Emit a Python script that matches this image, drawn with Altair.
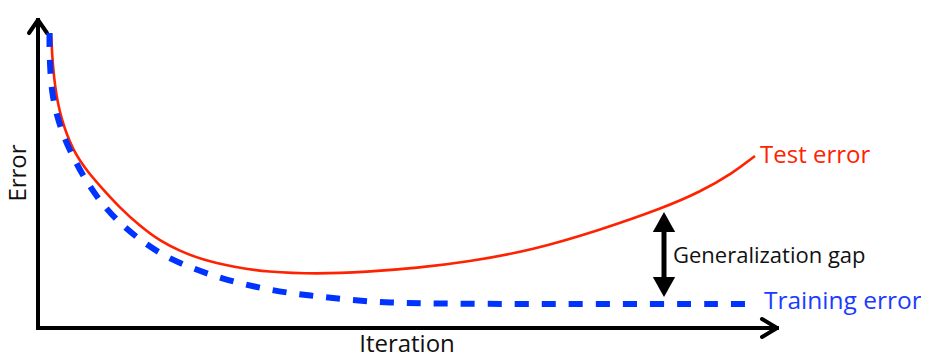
import altair as alt
import pandas as pd

# Values (x = iteration position, y = error position, screen-like units)
test_x = [51, 51.5, 52, 53, 55, 58, 62, 67, 73, 80, 88, 100, 120, 140, 160, 180, 200, 233, 267,
          317, 367, 417, 467, 533, 600, 663, 700, 733, 755]
test_y = [33, 40, 52, 66, 86, 104, 120, 135, 149, 161, 172, 186, 208, 226, 241, 251, 259, 267, 272,
          274, 272, 268, 262, 250, 230, 208, 192, 173, 156]

train_x = [49.5, 49.5, 49.5, 50, 51.5, 56, 64, 76, 88, 105, 125, 147, 168, 192, 217, 243, 270, 297,
           323, 350, 377, 403, 430, 500, 600, 700, 755]
train_y = [33, 40, 50, 65, 90, 113, 138, 163, 184, 208, 228, 245, 258, 268, 277, 284, 290, 294,
           297, 300, 302, 303, 303.5, 304, 304, 304, 304]

# axes (origin, tips) and arrow chevrons
axis_x = [38, 38]
axis_y = [328, 328]
axis_x2 = [38, 777]
axis_y2 = [20, 328]

chev_x = [38, 38, 777, 777]
chev_y = [20, 20, 328, 328]
chev_x2 = [29, 47, 762, 762]
chev_y2 = [33, 33, 319, 337]

gap_x = 664
gap_top = 212
gap_bottom = 297

labels = ["Test error", "Training error", "Generalization gap"]
label_x = [760, 764, 673]
label_y = [163, 309, 263]
label_color = ["#ff2200", "#1a3cff", "#111111"]
label_size = [24, 24.5, 22]

X = alt.Scale(domain=[8, 921])
Y = alt.Scale(domain=[8, 355], reverse=True)

def xe(f):
    return alt.X(f, type="quantitative", scale=X, axis=None)

def ye(f):
    return alt.Y(f, type="quantitative", scale=Y, axis=None)

test_df = pd.DataFrame({"x": test_x, "y": test_y})
train_df = pd.DataFrame({"x": train_x, "y": train_y})

test_line = alt.Chart(test_df).mark_line(
    color="#ff2200", strokeWidth=2.6, interpolate="basis"
).encode(x=xe("x"), y=ye("y"))

train_line = alt.Chart(train_df).mark_line(
    color="#0033ff", strokeWidth=6, strokeDash=[14, 13], interpolate="basis"
).encode(x=xe("x"), y=ye("y"))

axes_df = pd.DataFrame({"x": axis_x, "y": axis_y, "x2": axis_x2, "y2": axis_y2})
axes = alt.Chart(axes_df).mark_rule(color="black", strokeWidth=4, strokeCap="square").encode(
    x=xe("x"), y=ye("y"), x2="x2", y2="y2")

chev_df = pd.DataFrame({"x": chev_x, "y": chev_y, "x2": chev_x2, "y2": chev_y2})
chev = alt.Chart(chev_df).mark_rule(color="black", strokeWidth=4, strokeCap="round").encode(
    x=xe("x"), y=ye("y"), x2="x2", y2="y2")

shaft_df = pd.DataFrame({"x": [gap_x], "y": [gap_top + 15], "y2": [gap_bottom - 15]})
shaft = alt.Chart(shaft_df).mark_rule(color="black", strokeWidth=5).encode(
    x=xe("x"), y=ye("y"), y2="y2")

heads_df = pd.DataFrame({"x": [gap_x, gap_x], "y": [gap_top + 10, gap_bottom - 10],
                         "dir": ["up", "down"]})
head_up = alt.Chart(heads_df[heads_df.dir == "up"]).mark_point(
    shape="M0,-0.9L1,0.9L-1,0.9Z", size=500, filled=True, color="black", opacity=1, strokeWidth=0
).encode(x=xe("x"), y=ye("y"))
head_down = alt.Chart(heads_df[heads_df.dir == "down"]).mark_point(
    shape="M0,0.9L1,-0.9L-1,-0.9Z", size=500, filled=True, color="black", opacity=1, strokeWidth=0
).encode(x=xe("x"), y=ye("y"))

lab_df = pd.DataFrame({"t": labels, "x": label_x, "y": label_y, "c": label_color, "s": label_size})
texts = alt.Chart(lab_df).mark_text(align="left", baseline="alphabetic", font="Open Sans").encode(
    x=xe("x"), y=ye("y"), text="t",
    color=alt.Color("c", scale=None), size=alt.Size("s", scale=None))

ax_lab_df = pd.DataFrame({"t": ["Iteration"], "x": [407], "y": [352]})
x_title = alt.Chart(ax_lab_df).mark_text(align="center", baseline="alphabetic", font="Open Sans",
                                        fontSize=24, color="#111111").encode(
    x=xe("x"), y=ye("y"), text="t")
ay_lab_df = pd.DataFrame({"t": ["Error"], "x": [26], "y": [173]})
y_title = alt.Chart(ay_lab_df).mark_text(align="center", baseline="alphabetic", font="Open Sans",
                                        fontSize=24, angle=270, color="#111111").encode(
    x=xe("x"), y=ye("y"), text="t")

chart = alt.layer(
    axes, chev, test_line, train_line, shaft, head_up, head_down, texts, x_title, y_title
).properties(width=913, height=347, padding=0, autosize="none").configure_view(stroke=None)

chart.save("out.html", embed_options={"renderer": "svg", "actions": False})
